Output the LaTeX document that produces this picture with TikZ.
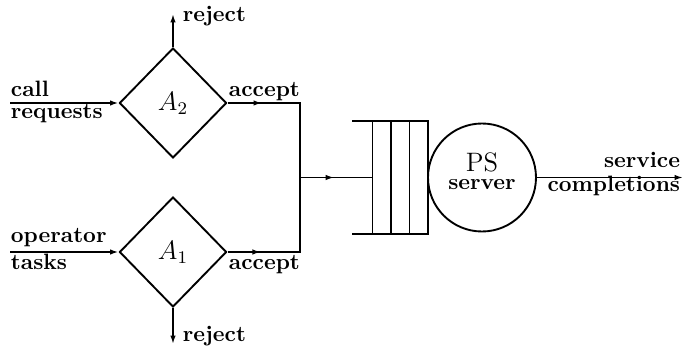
\documentclass[tikz,border=0pt]{standalone}
\usetikzlibrary{shapes.geometric,arrows.meta,decorations.markings,calc}
\begin{document}
\begin{tikzpicture}[x=0.45pt,y=-0.45pt, line width=0.85pt,
  tip/.style={-{Latex[length=3.8pt,width=2.5pt]}},
  midtip/.style={postaction={decorate},decoration={markings,mark=at position #1 with {\arrow{Latex[length=3.8pt,width=2.5pt]}}}},
  lbl/.style={inner sep=0pt,font=\bfseries},
  gate/.style={draw,diamond,inner sep=0pt,minimum width=48.2pt,minimum height=49.5pt,font=\fontsize{11.5}{13}\selectfont}]
\useasboundingbox (0,0) rectangle (684,350);
% gates
\node[gate] (d2) at (173,103) {$A_2$};
\node[gate] (d1) at (173,252) {$A_1$};
% queue and server
\node[inner sep=0pt,minimum width=33.3pt,minimum height=50pt] (q) at (390,177.5) {};
\node[draw,circle,inner sep=0pt,minimum size=48.6pt] (c) at (482,177.5) {};
\draw (q.north west) -- (q.north east) -- (q.south east) -- (q.south west);
\draw ($(q.north west)!0.27!(q.north east)$) -- ($(q.south west)!0.27!(q.south east)$);
\draw ($(q.north west)!0.514!(q.north east)$) -- ($(q.south west)!0.514!(q.south east)$);
\draw ($(q.north west)!0.757!(q.north east)$) -- ($(q.south west)!0.757!(q.south east)$);
\node[inner sep=0pt,align=center,font=\bfseries\fontsize{10}{8.2}\selectfont] (ps) at (482,171)
  {{\mdseries\fontsize{12}{8.2}\selectfont PS}\\server};
% coordinates
\coordinate (in2) at (10,103);
\coordinate (in1) at (10,252);
\coordinate (r2) at (173,14);
\coordinate (r1) at (173,344);
\coordinate (j2) at (300,103);
\coordinate (j1) at (300,252);
\coordinate (jm) at (300,177.5);
\coordinate (qin) at ($(q.north west)!0.27!(q.north east)$);
\coordinate (out) at (683,177.5);
% connectors
\draw[tip] (in2) -- (d2.west);
\draw[tip] (in1) -- (d1.west);
\draw[tip] (d2.north) -- (r2);
\draw[tip] (d1.south) -- (r1);
\draw[midtip=15.5pt] (d2.east) -- (j2) -- (jm);
\draw[midtip=15pt] (d1.east) -- (j1) -- (jm);
\draw[midtip=0.47] (jm) -- (jm -| qin);
\draw[tip] (c.east) -- (out);
% labels
\node[lbl,anchor=base west] (l1) at (10,97) {call};
\node[lbl,anchor=base west] (l2) at (10,119) {requests};
\node[lbl,anchor=base west] (l3) at (10,243) {operator};
\node[lbl,anchor=base west] (l4) at (10,270) {tasks};
\node[lbl,anchor=base west] (l5) at (228,97) {accept};
\node[lbl,anchor=base west] (l6) at (228,270) {accept};
\node[lbl,anchor=base west] (l7) at (182,22) {reject};
\node[lbl,anchor=base west] (l8) at (182,341) {reject};
\node[lbl,anchor=base east] (l9) at (681,168) {service};
\node[lbl,anchor=base east] (l10) at (681,192) {completions};
\end{tikzpicture}
\end{document}
